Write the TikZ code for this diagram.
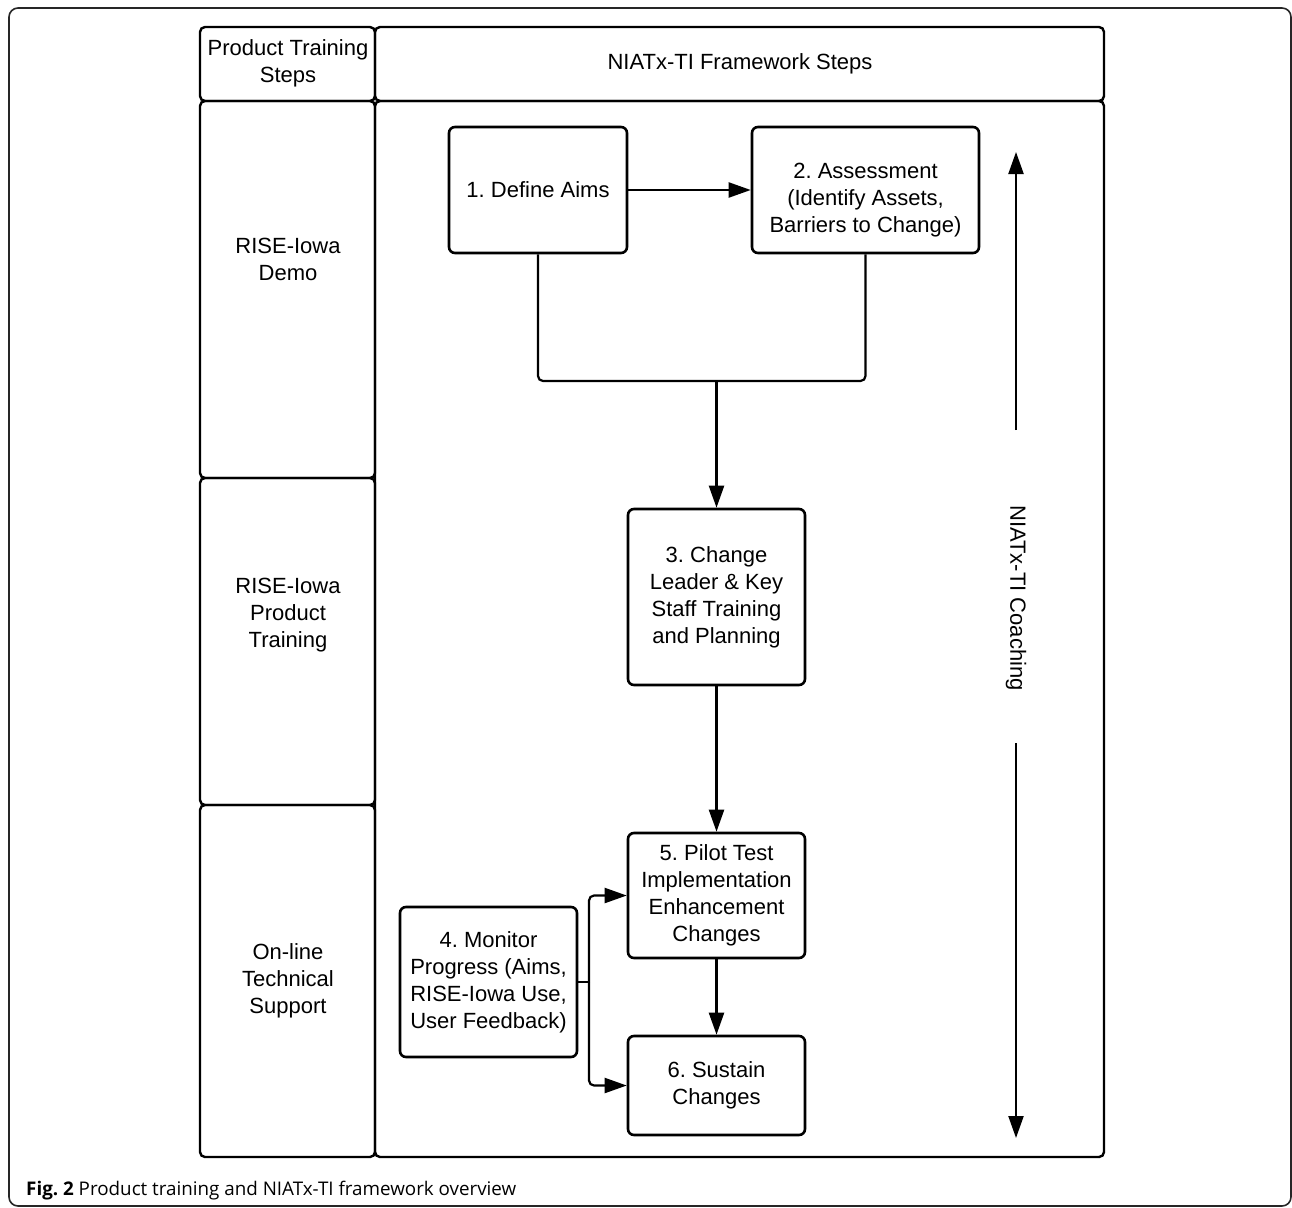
\documentclass[tikz,border=0pt]{standalone}
\usepackage{fontspec}
\setmainfont{Liberation Sans}
\newfontfamily\capfont{Open Sans}
\usetikzlibrary{arrows.meta}
\frenchspacing
\tikzset{
  cell/.style={draw, line width=2.4pt, rounded corners=5pt, inner sep=0pt},
  stepbox/.style={draw, line width=2.6pt, rounded corners=6pt, inner sep=0pt, align=center},
  lbl/.style={align=center, inner sep=0pt},
  conn/.style={line width=2.2pt, rounded corners=5pt},
  arr/.style={conn, -{Triangle[length=22pt,width=15pt]}},
}
\begin{document}
\begin{tikzpicture}[x=1pt,y=-1pt, font=\fontsize{22}{27}\selectfont]
\useasboundingbox (0,0) rectangle (1292,1207);
% outer frame
\draw[line width=1.6pt, black!85, rounded corners=9pt] (9,8) rectangle (1291,1206);
% table cells
\node[cell, minimum width=175pt, minimum height=74pt] (h1) at (287.5,64) {};
\node[cell, minimum width=729pt, minimum height=74pt] (h2) at (739.5,64) {};
\node[cell, minimum width=175pt, minimum height=377pt] (c1) at (287.5,289.5) {};
\node[cell, minimum width=175pt, minimum height=327pt] (c2) at (287.5,641.5) {};
\node[cell, minimum width=175pt, minimum height=352pt] (c3) at (287.5,981) {};
\node[cell, minimum width=729pt, minimum height=1056pt] (c4) at (739.5,629) {};
% header texts
\node[lbl] (t1) at (288,63) {Product Training\\Steps};
\node[lbl] (t2) at (740,64) {NIATx-TI Framework Steps};
\node[lbl] (t3) at (288,259) {RISE-Iowa\\Demo};
\node[lbl] (t4) at (288,615) {RISE-Iowa\\Product\\Training};
\node[lbl] (t5) at (288,981) {On-line\\Technical\\Support};
% step boxes
\node[stepbox, minimum width=178pt, minimum height=126pt] (b1) at (538,190) {1. Define Aims};
\node[stepbox, minimum width=227pt, minimum height=126pt,
      label={[lbl, yshift=-10pt]center:{2. Assessment\\(Identify Assets,\\Barriers to Change)}}] (b2) at (865.5,190) {};
\node[stepbox, minimum width=177pt, minimum height=176pt] (b3) at (716.5,597) {3. Change\\Leader \& Key\\Staff Training\\and Planning};
\node[stepbox, minimum width=177pt, minimum height=150pt] (b4) at (488.5,982) {4. Monitor\\Progress (Aims,\\RISE-Iowa Use,\\User Feedback)};
\node[stepbox, minimum width=177pt, minimum height=125pt] (b5) at (716.5,895.5) {5. Pilot Test\\Implementation\\Enhancement\\Changes};
\node[stepbox, minimum width=177pt, minimum height=99pt] (b6) at (716.5,1085.5) {6. Sustain\\Changes};
% connectors
\coordinate (m) at (716.5,381);
\draw[arr] (b1.east) -- (b2.west);
\draw[conn] (b1.south) |- (m) -| (b2.south);
\draw[arr] (m) -- (b3.north);
\draw[arr] (b3.south) -- (b5.north);
\draw[arr] (b5.south) -- (b6.north);
\coordinate (j) at (589,982);
\draw[conn] (b4.east) -- (j);
\draw[arr] (j) |- (b5.west);
\draw[arr] (j) |- (b6.west);
% coaching
\node[lbl, rotate=-90] (coach) at (1016,598) {NIATx-TI Coaching};
\coordinate (ca1) at (1016,430);
\coordinate (ca2) at (1016,152);
\coordinate (cb1) at (1016,743);
\coordinate (cb2) at (1016,1138);
\draw[arr] (ca1) -- (ca2);
\draw[arr] (cb1) -- (cb2);
% caption
\node[anchor=base west, inner sep=0pt, font=\capfont\fontsize{18.8}{22}\selectfont] (cap) at (26,1195) {\textbf{Fig. 2} Product training and NIATx-TI framework overview};
\end{tikzpicture}
\end{document}
